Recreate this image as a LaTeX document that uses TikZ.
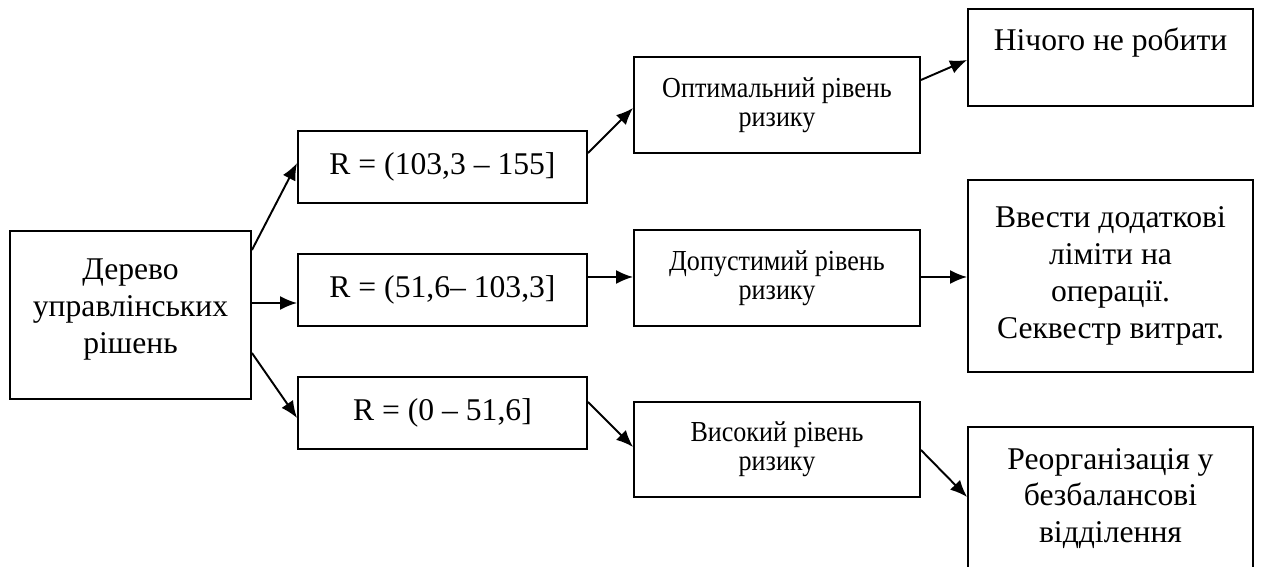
\documentclass[tikz,border=0pt]{standalone}
\usepackage{fontspec}
\setmainfont{Liberation Serif}
\newfontfamily\narrowserif{Liberation Serif}[FakeStretch=0.9]
\usetikzlibrary{arrows.meta,calc}

\begin{document}
\begin{tikzpicture}[->,>={Latex[length=0.34cm,width=0.28cm]},x=0.02cm,y=-0.02cm,line width=1.1pt,
                big box/.style={draw,rectangle,align=center,inner sep=2pt,font=\fontsize{18}{21}\selectfont},
                small box/.style={big box,font=\narrowserif\fontsize{16.5}{16.5}\selectfont}]

  \useasboundingbox (0,0) rectangle (1264,567);
  \clip (0,0) rectangle (1264,567);

  \node[big box,minimum width=4.82cm,minimum height=3.36cm] (root) at (130.5,315) {Дерево\\управлінських\\рішень\\[-0.6em]~};

  \node[big box,minimum width=5.78cm,minimum height=1.44cm] (r1) at (442.5,167) {R = (103,3 – 155]};
  \node[big box,minimum width=5.78cm,minimum height=1.44cm] (r2) at (442.5,290) {R = (51,6– 103,3]};
  \node[big box,minimum width=5.78cm,minimum height=1.44cm] (r3) at (442.5,413) {R = (0 – 51,6]};

  \node[small box,minimum width=5.72cm,minimum height=1.92cm] (opt) at (777,105) {Оптимальний рівень\\ризику};
  \node[small box,minimum width=5.72cm,minimum height=1.92cm] (dop) at (777,278) {Допустимий рівень\\ризику};
  \node[small box,minimum width=5.72cm,minimum height=1.9cm] (vys) at (777,449.5) {Високий рівень\\ризику};

  \node[big box,minimum width=5.7cm,minimum height=1.94cm] (nothing) at (1110.5,57.5) {Нічого не робити\\~};
  \node[big box,minimum width=5.7cm,minimum height=3.84cm] (limits) at (1110.5,276) {Ввести додаткові\\ліміти на\\операції.\\Секвестр витрат.};
  \node[big box,minimum width=5.7cm,minimum height=2.86cm] (reorg) at (1110.5,498.5) {Реорганізація у\\безбалансові\\відділення};

  % root -> intervals
  \draw ($(root.east)+(0,-65)$) -- ($(r1.west)+(0,-4)$);
  \draw ($(root.east)+(0,-12)$) -- ($(r2.west)+(0,13)$);
  \draw ($(root.east)+(0,38)$) -- ($(r3.west)+(0,5)$);

  % intervals -> risk levels
  \draw ($(r1.east)+(0,-14)$) -- ($(opt.west)+(0,3)$);
  \draw ($(r2.east)+(0,-13)$) -- ($(dop.west)+(0,-1)$);
  \draw ($(r3.east)+(0,-11)$) -- ($(vys.west)+(0,-2.5)$);

  % risk levels -> decisions
  \draw ($(opt.east)+(0,-25)$) -- ($(nothing.west)+(0,2.5)$);
  \draw ($(dop.east)+(0,-1)$) -- ($(limits.west)+(0,1)$);
  \draw ($(vys.east)+(0,0.5)$) -- ($(reorg.west)+(0,-1.5)$);

\end{tikzpicture}
\end{document}
